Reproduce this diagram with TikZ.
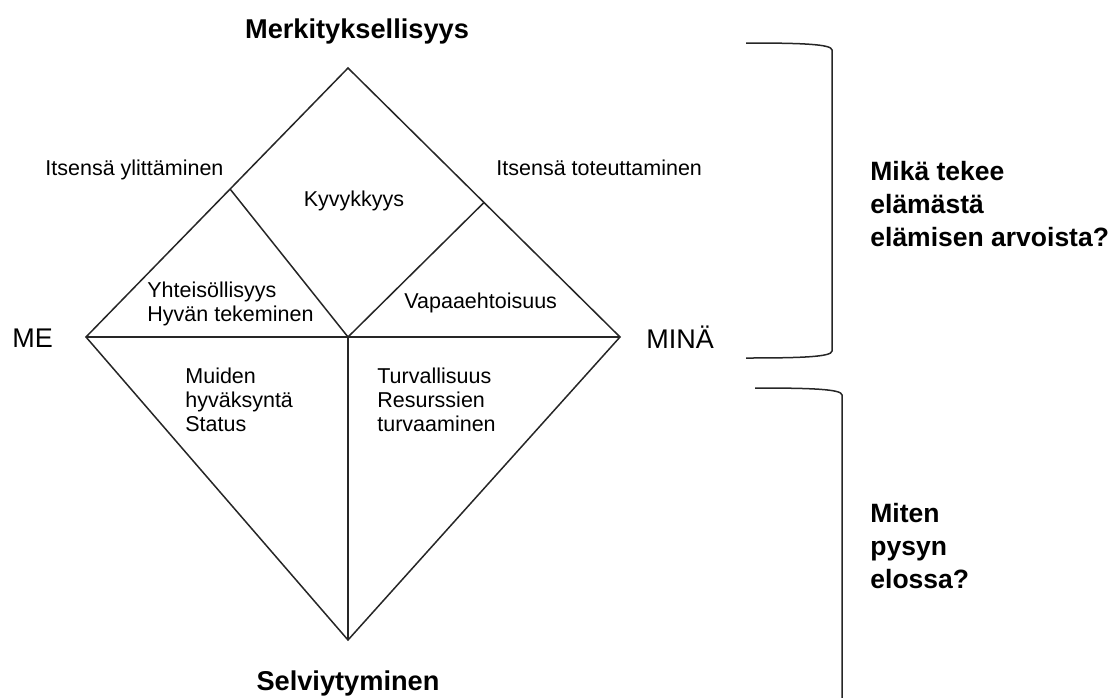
\documentclass[tikz,border=0pt]{standalone}
\usepackage{fontspec}
\setmainfont{Liberation Sans}
\usetikzlibrary{calc}

\tikzstyle{edge} = [draw=black!85, line width=0.75pt]
\tikzstyle{brace} = [draw=black!85, line width=0.75pt]
\tikzstyle{celltext} = [inner sep=0pt, align=left,
    font=\fontsize{10.75}{12}\selectfont]
\tikzstyle{pole} = [inner sep=0pt, anchor=base west, font=\fontsize{13.5}{16}\selectfont]
\tikzstyle{heading} = [inner sep=0pt, anchor=base, font=\fontsize{13.6}{16}\selectfont\bfseries]
\tikzstyle{question} = [inner sep=0pt, anchor=north west, align=left,
    font=\fontsize{13.25}{16.5}\selectfont\bfseries]

\begin{document}
\begin{tikzpicture}[x=0.5pt, y=-0.5pt]
\useasboundingbox (0,0) rectangle (1119,697);

% diamond corners
\coordinate (top) at (348,68);
\coordinate (left) at (86,337);
\coordinate (right) at (620,337);
\coordinate (bottom) at (348,640);
\coordinate (mid) at (348,337);
\coordinate (kyvL) at ($(left)!0.55!(top)$);
\coordinate (kyvR) at ($(top)!0.5!(right)$);

\draw [edge] (top) -- (right) -- (bottom) -- (left) -- cycle;
\draw [edge] (left) -- (right);
\draw [edge] (mid) -- (bottom);
\draw [edge] (kyvL) -- (mid) -- (kyvR);

% headings and poles
\node [heading] (meaning) at (357,38) {Merkityksellisyys};
\node [heading] (survival) at (348,690) {Selviytyminen};
\node [pole] (me) at (12,347) {ME};
\node [pole] (mina) at (646,348) {MINÄ};

% cells
\node [celltext, anchor=base west] (transcend) at (45,175) {Itsensä ylittäminen};
\node [celltext, anchor=base west] (realise) at (496,175) {Itsensä toteuttaminen};
\node [celltext, anchor=base] (capab) at (354,206) {Kyvykkyys};
\node [celltext, anchor=north west] (community) at (147,281.5) {Yhteisöllisyys\\Hyvän tekeminen};
\node [celltext, anchor=base west] (volunteer) at (404,308) {Vapaaehtoisuus};
\node [celltext, anchor=north west] (approval) at (185,367.5) {Muiden\\hyväksyntä\\Status};
\node [celltext, anchor=north west] (security) at (377,367.5) {Turvallisuus\\Resurssien\\turvaaminen};

% questions
\node [question] (worth) at (870,161) {Mikä tekee\\elämästä\\elämisen arvoista?};
\node [question] (alive) at (870,503) {Miten\\pysyn\\elossa?};

% brackets
\coordinate (upA) at (746,43);
\coordinate (upB) at (746,358);
\coordinate (lowA) at (755,388);
\coordinate (lowB) at (842,700);
\draw [brace] (upA) .. controls (800,43) and (832,44) .. (832,50)
    -- (832,351) .. controls (832,357) and (800,358) .. (upB);
\draw [brace] (lowA) .. controls (810,388) and (842,389) .. (842,395) -- (lowB);
\end{tikzpicture}
\end{document}
